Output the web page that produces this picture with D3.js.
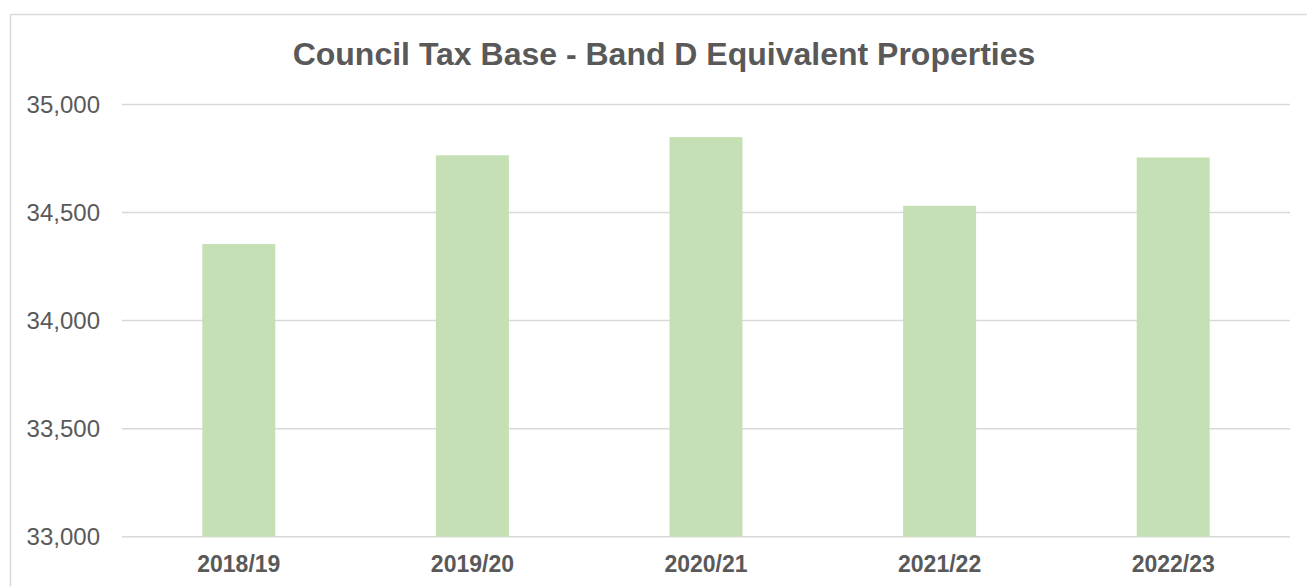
<!DOCTYPE html>
<html>
<head>
<meta charset="utf-8">
<script src="https://cdn.jsdelivr.net/npm/d3@7"></script>
<style>
  html, body { margin: 0; padding: 0; background: #fff; }
  svg { display: block; }
  text { font-family: "Liberation Sans", Arial, sans-serif; }
</style>
</head>
<body>
<svg id="chart" width="1307" height="586"></svg>
<script>
const categories = ["2018/19", "2019/20", "2020/21", "2021/22", "2022/23"];
const values = [34354, 34765, 34849, 34531, 34755];
const yTicks = [33000, 33500, 34000, 34500, 35000];
const title = "Council Tax Base - Band D Equivalent Properties";

const svg = d3.select("#chart");
const W = 1307, H = 586;
const plot = { left: 122, right: 1290, top: 104.5, bottom: 536.7 };

svg.append("rect")
  .attr("x", 10.5).attr("y", 14.5)
  .attr("width", 1330).attr("height", 620)
  .attr("fill", "#fff").attr("stroke", "#d9d9d9").attr("stroke-width", 1.5);

const x = d3.scaleBand().domain(categories).range([plot.left, plot.right]).paddingInner(0.6875).paddingOuter(0.34375);
const y = d3.scaleLinear().domain([33000, 35000]).range([plot.bottom, plot.top]);

// gridlines
svg.append("g").selectAll("line").data(yTicks).join("line")
  .attr("x1", plot.left).attr("x2", plot.right)
  .attr("y1", d => y(d)).attr("y2", d => y(d))
  .attr("stroke", "#d9d9d9").attr("stroke-width", 1.5);

// y axis labels
const yAxis = d3.axisLeft(y).tickValues(yTicks).tickSize(0).tickPadding(0).tickFormat(d3.format(","));
const gy = svg.append("g").attr("transform", `translate(${plot.left - 22},0)`).call(yAxis);
gy.select(".domain").remove();
gy.selectAll("text").attr("font-size", 24).attr("fill", "#595959")
  .attr("font-family", '"Liberation Sans", Arial, sans-serif');

// bars
svg.append("g").selectAll("rect").data(values).join("rect")
  .attr("x", (d, i) => x(categories[i]))
  .attr("width", x.bandwidth())
  .attr("y", d => y(d))
  .attr("height", d => y(33000) - y(d))
  .attr("fill", "#c5e0b4");

// x axis labels
const xAxis = d3.axisBottom(x).tickSize(0).tickPadding(0);
const gx = svg.append("g").attr("transform", `translate(0,${plot.bottom})`).call(xAxis);
gx.select(".domain").remove();
gx.selectAll("text").attr("dy", null).attr("y", 35).attr("font-size", 23).attr("font-weight", "bold")
  .attr("fill", "#595959").attr("font-family", '"Liberation Sans", Arial, sans-serif');

// title
svg.append("text")
  .attr("x", 664).attr("y", 65)
  .attr("text-anchor", "middle")
  .attr("font-size", 32).attr("font-weight", "bold")
  .attr("fill", "#595959")
  .text(title);
</script>
</body>
</html>
